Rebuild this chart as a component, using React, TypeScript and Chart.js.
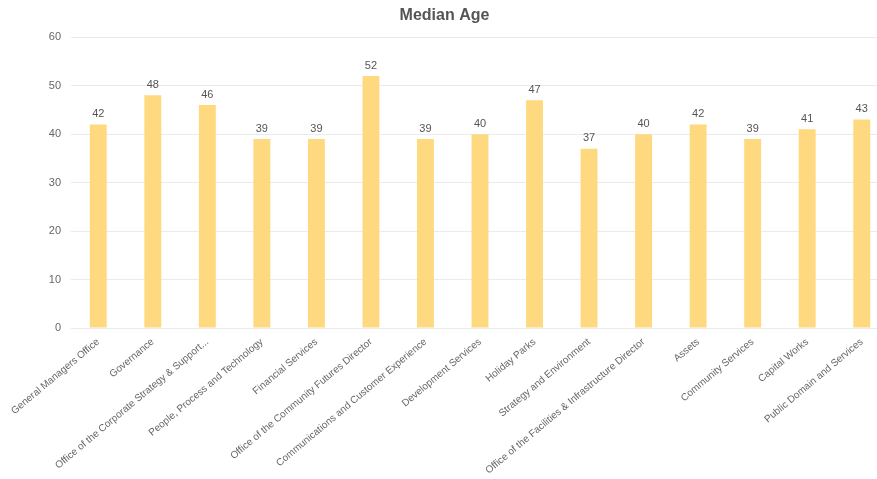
import React, { useEffect, useRef } from "react";
import { Chart, registerables } from "chart.js";

Chart.register(...registerables);

const categories: string[] = [
  "General Managers Office",
  "Governance",
  "Office of the Corporate Strategy & Support...",
  "People, Process and Technology",
  "Financial Services",
  "Office of the Community Futures Director",
  "Communications and Customer Experience",
  "Development Services",
  "Holiday Parks",
  "Strategy and Environment",
  "Office of the Facilities & Infrastructure Director",
  "Assets",
  "Community Services",
  "Capital Works",
  "Public Domain and Services",
];

const medianAge: number[] = [42, 48, 46, 39, 39, 52, 39, 40, 47, 37, 40, 42, 39, 41, 43];

const yTicks: number[] = [0, 10, 20, 30, 40, 50, 60];

const FONT = "'Liberation Sans', Arial, Helvetica, sans-serif";

const valueLabels = {
  id: "valueLabels",
  afterDatasetsDraw(chart: any) {
    const ctx = chart.ctx;
    const meta = chart.getDatasetMeta(0);
    ctx.save();
    ctx.font = `11px ${FONT}`;
    ctx.fillStyle = "#555";
    ctx.textAlign = "center";
    ctx.textBaseline = "bottom";
    meta.data.forEach((bar: any, i: number) => {
      ctx.fillText(String(medianAge[i]), bar.x, bar.y - 5);
    });
    ctx.restore();
  },
};

export default function App() {
  const ref = useRef<HTMLCanvasElement | null>(null);

  useEffect(() => {
    if (!ref.current) return;
    const chart = new Chart(ref.current, {
      type: "bar",
      data: {
        labels: categories,
        datasets: [
          {
            label: "Median Age",
            data: medianAge,
            backgroundColor: "#FFD97F",
            barPercentage: 0.62,
            categoryPercentage: 0.5,
          },
        ],
      },
      options: {
        responsive: false,
        animation: false,
        devicePixelRatio: 1,
        layout: { padding: { left: 0, right: 41, top: 4, bottom: 0 } },
        plugins: {
          legend: { display: false },
          tooltip: { enabled: false },
          title: {
            display: true,
            text: "Median Age",
            color: "#555",
            font: { family: FONT, size: 16, weight: "bold" },
            padding: { top: 2, bottom: 12 },
          },
        },
        scales: {
          x: {
            grid: { display: false, drawTicks: false },
            border: { display: false },
            ticks: {
              color: "#666",
              font: { family: FONT, size: 10 },
              minRotation: 40,
              maxRotation: 40,
              autoSkip: false,
              padding: 8,
            },
            afterFit(scale: any) {
              scale.height = 151;
            },
          },
          y: {
            min: 0,
            max: 60,
            afterBuildTicks(scale: any) {
              scale.ticks = yTicks.map((v) => ({ value: v }));
            },
            grid: { color: "#ebebeb", drawTicks: false },
            border: { display: false },
            ticks: {
              color: "#666",
              font: { family: FONT, size: 11 },
              padding: 10,
            },
            afterFit(scale: any) {
              scale.width = 71;
            },
          },
        },
      },
      plugins: [valueLabels],
    });
    return () => chart.destroy();
  }, []);

  return (
    <div
      style={{
        position: "absolute",
        left: 0,
        top: 0,
        width: 877,
        height: 479,
        overflow: "hidden",
        background: "#fff",
      }}
    >
      <canvas ref={ref} width={930} height={479} style={{ display: "block" }} />
    </div>
  );
}
